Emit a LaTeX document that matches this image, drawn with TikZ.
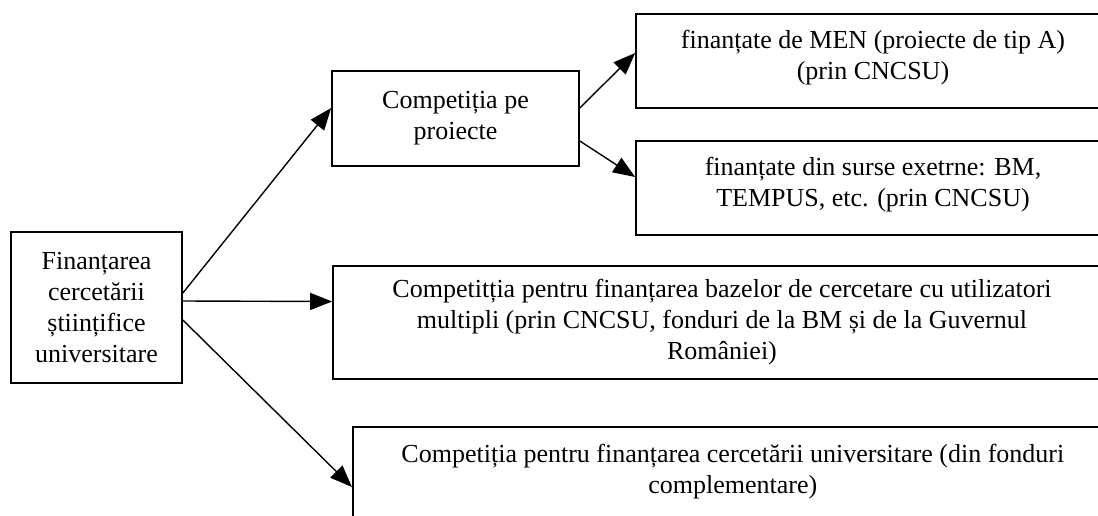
\documentclass[tikz,border=0pt]{standalone}
\usepackage{fontspec}
\setmainfont{Liberation Serif}
\usetikzlibrary{arrows.meta}

\begin{document}
\begin{tikzpicture}
    [x=1pt,y=-1pt,
     >={Triangle[length=22pt,width=17pt]},
     line width=1.4pt,
     box/.style={draw,line width=1.7pt,rectangle,align=center,inner sep=0pt,
                 font=\fontsize{26}{31}\selectfont}]
    \useasboundingbox (0,0) rectangle (1098,515);

    %Nodes
    \node[box,minimum width=171pt,minimum height=151pt] (L) at (96.5,307.5)
        {Finanțarea\\cercetării\\științifice\\universitare};
    \node[box,minimum width=247pt,minimum height=95pt] (P) at (455.5,118.5)
        {Competiția pe\\proiecte};
    \node[box,minimum width=474pt,minimum height=94pt,text depth=13pt] (A) at (873,61)
        {finanțate de MEN (proiecte de tip A)\\(prin CNCSU)};
    \node[box,minimum width=474pt,minimum height=94pt,text depth=13pt] (B) at (873,188)
        {finanțate din surse exetrne: BM,\\TEMPUS, etc. (prin CNCSU)};
    \node[box,minimum width=778pt,minimum height=113pt] (C) at (722,322.5)
        {Competitția pentru finanțarea bazelor de cercetare cu utilizatori\\
         multipli (prin CNCSU, fonduri de la BM și de la Guvernul\\României)};
    \node[box,minimum width=760pt,inner ysep=17pt,text depth=60pt,anchor=north west] (D) at (352,426)
        {Competiția pentru finanțarea cercetării universitare (din fonduri\\complementare)};

    %Edges
    \draw[->] ([yshift=14.5pt]L.east) -- ([yshift=10.5pt]P.west);
    \draw[->] ([yshift=6.5pt]L.east) -- ([yshift=21pt]C.west);
    \draw[->] ([yshift=-12.5pt]L.east) -- ([yshift=-61pt]D.north west);
    \draw[->] ([yshift=10.5pt]P.east) -- ([yshift=8pt]A.west);
    \draw[->] ([yshift=-22.5pt]P.east) -- ([yshift=11pt]B.west);

\end{tikzpicture}
\end{document}
